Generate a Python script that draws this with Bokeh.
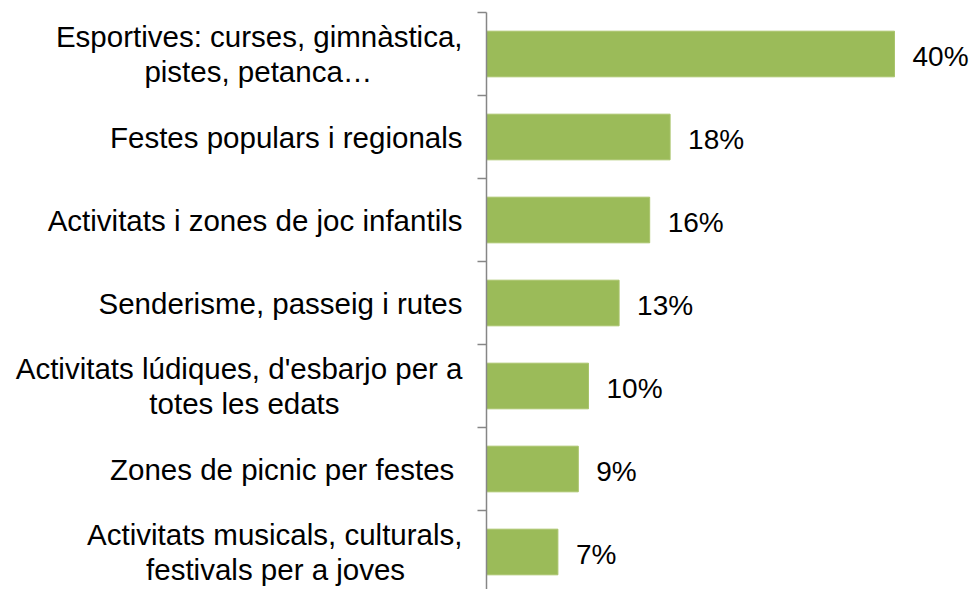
from bokeh.plotting import figure
from bokeh.models import Range1d, FixedTicker, ColumnDataSource
from bokeh.embed import file_html
from bokeh.resources import INLINE
from bokeh.core.properties import value

NB = "\u00a0"
categories = [
    "Esportives: curses, gimnàstica,\npistes, petanca…" + NB * 11,
    "Festes populars i regionals",
    "Activitats i zones de joc infantils",
    "Senderisme, passeig i rutes",
    "Activitats lúdiques, d'esbarjo per a\ntotes les edats" + NB * 15,
    "Zones de picnic per festes" + NB,
    "Activitats musicals, culturals,\nfestivals per a joves" + NB * 7,
]
values = [40, 18, 16, 13, 10, 9, 7]
value_labels = ["40%", "18%", "16%", "13%", "10%", "9%", "7%"]

n = len(categories)
ypos = [n - 0.5 - i for i in range(n)]
bounds = list(range(0, n + 1))

src = ColumnDataSource(dict(y=ypos, v=values, lab=value_labels))

W, H = 972, 589
left_border = 486
top_border = 12
px_per_unit = 10.2
x_end = (W - left_border) / px_per_unit
frame_h = H - top_border

p = figure(width=W, height=H, output_backend="svg", toolbar_location=None,
           x_range=Range1d(0, x_end), y_range=Range1d(n - frame_h / 83.0, n),
           min_border_left=left_border, min_border_right=0,
           min_border_top=top_border, min_border_bottom=0)
p.outline_line_color = None
p.xgrid.visible = False
p.ygrid.visible = False
p.xaxis.visible = False

p.hbar(y="y", right="v", left=0, height=0.55, source=src,
       fill_color="#9BBB59", line_color="#A9C46B", line_width=1)
p.text(x="v", y="y", text="lab", source=src, x_offset=18, y_offset=2,
       text_baseline="middle", text_align="left",
       text_font=value("Liberation Sans"), text_font_size="28px", text_color="#000000")

ax = p.yaxis[0]
ax.ticker = FixedTicker(ticks=ypos, minor_ticks=bounds)
ax.major_label_overrides = {y: c for y, c in zip(ypos, categories)}
ax.major_tick_out = 0
ax.major_tick_in = 0
ax.minor_tick_out = 9
ax.minor_tick_in = 0
ax.minor_tick_line_color = "#868686"
ax.minor_tick_line_width = 1.5
ax.axis_line_color = "#868686"
ax.axis_line_width = 1.5
ax.major_label_standoff = 15
ax.major_label_text_font = "Liberation Sans"
ax.major_label_text_font_size = "29.5px"
ax.major_label_text_line_height = 1.05
ax.major_label_text_color = "#000000"

open("out.html", "w").write(file_html(p, INLINE))
